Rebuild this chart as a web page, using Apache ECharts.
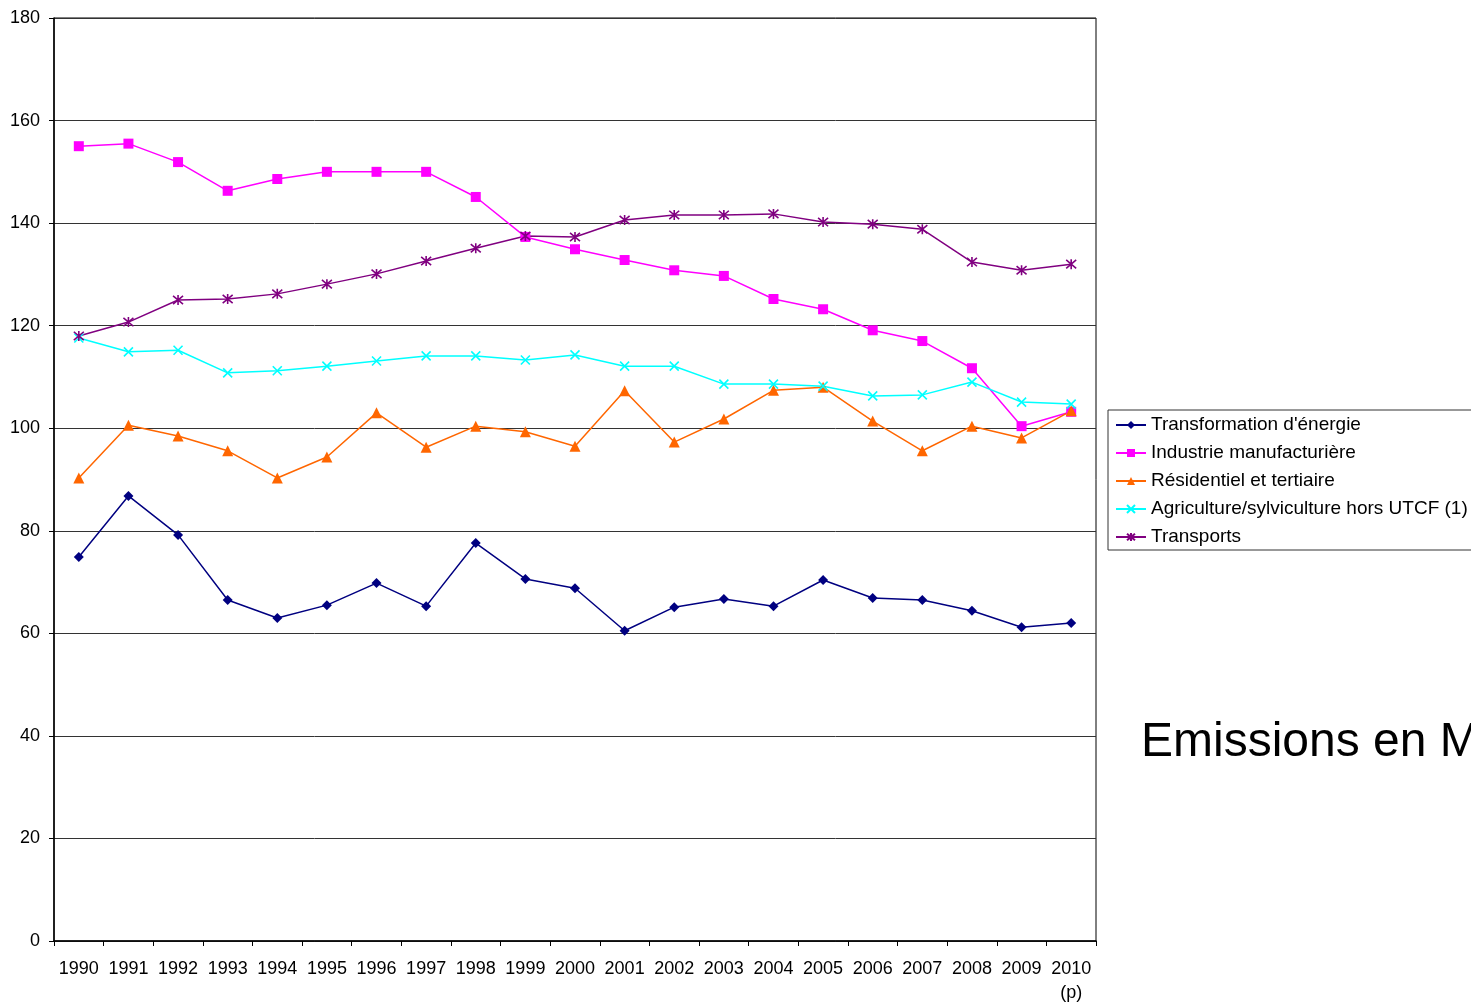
<!DOCTYPE html>
<html>
<head>
<meta charset="utf-8">
<script src="https://cdn.jsdelivr.net/npm/echarts@6/dist/echarts.min.js"></script>
<style>
html,body{margin:0;padding:0;background:#fff;}
#chart{width:1471px;height:1005px;}
</style>
</head>
<body>
<div id="chart"></div>
<script>
const years = ['1990','1991','1992','1993','1994','1995','1996','1997','1998','1999','2000','2001','2002','2003','2004','2005','2006','2007','2008','2009','2010\n(p)'];
const yTicks = [0,20,40,60,80,100,120,140,160,180];
const transformation = [74.9,86.8,79.2,66.5,63.0,65.5,69.8,65.3,77.6,70.6,68.8,60.5,65.1,66.7,65.3,70.4,66.9,66.5,64.4,61.2,62.0];
const industrie = [155.0,155.5,151.9,146.3,148.6,150.0,150.0,150.0,145.1,137.3,134.9,132.8,130.8,129.7,125.2,123.2,119.1,117.0,111.7,100.4,103.2];
const residentiel = [90.3,100.6,98.5,95.6,90.3,94.4,103.0,96.3,100.4,99.3,96.5,107.3,97.3,101.8,107.4,108.0,101.4,95.6,100.4,98.1,103.4];
const agriculture = [117.6,114.9,115.2,110.8,111.2,112.1,113.1,114.1,114.1,113.3,114.3,112.1,112.1,108.6,108.6,108.2,106.3,106.5,109.0,105.1,104.7];
const transports = [118.0,120.7,125.0,125.2,126.2,128.1,130.1,132.6,135.1,137.5,137.3,140.6,141.6,141.6,141.8,140.2,139.8,138.8,132.4,130.8,132.0];
const seriesNames = ["Transformation d'énergie","Industrie manufacturière","Résidentiel et tertiaire","Agriculture/sylviculture hors UTCF (1)","Transports"];

const FONT = 'Liberation Sans, Arial, sans-serif';
const chart = echarts.init(document.getElementById('chart'), null, {renderer:'canvas'});

function mk(name, data, color, symbol, size, strokeSym){
  return {
    name: name, type: 'line', data: data,
    symbol: symbol, symbolSize: size,
    lineStyle: {color: color, width: 1.5},
    itemStyle: strokeSym ? {color: color, borderColor: color, borderWidth: 1.6} : {color: color, borderWidth: 0},
    emphasis: {disabled: true},
    animation: false
  };
}

chart.setOption({
  backgroundColor: '#fff',
  animation: false,
  textStyle: {fontFamily: FONT},
  grid: {left: 54, right: 375, top: 18, bottom: 59, show: true, borderColor: '#000', borderWidth: 1, backgroundColor: 'transparent'},
  legend: {
    orient: 'vertical', left: 1108, top: 410,
    padding: [5, 12, 3, 7],
    borderColor: '#333', borderWidth: 1,
    itemWidth: 30, itemHeight: 10, itemGap: 8,
    textStyle: {fontSize: 19, color: '#000', fontFamily: FONT, lineHeight: 20},
    data: seriesNames
  },
  graphic: [{
    type: 'text', left: 1141, top: 719,
    style: {text: 'Emissions en Mt CO2', fontSize: 48, fontFamily: FONT, fill: '#000'}
  }],
  xAxis: {
    type: 'category', data: years, boundaryGap: true,
    axisLine: {lineStyle: {color: '#000', width: 1.5}},
    axisTick: {show: true, length: 5, lineStyle: {color: '#000'}},
    axisLabel: {color: '#000', fontSize: 18, margin: 16, lineHeight: 24, interval: 0, fontFamily: FONT}
  },
  yAxis: {
    type: 'value', min: 0, max: 180, interval: 20,
    axisLine: {show: true, lineStyle: {color: '#000', width: 1.5}},
    axisTick: {show: true, length: 5, lineStyle: {color: '#000'}},
    axisLabel: {color: '#000', fontSize: 18, margin: 14, fontFamily: FONT,
      formatter: function(v){ return yTicks.indexOf(v) >= 0 ? String(v) : ''; }},
    splitLine: {show: true, lineStyle: {color: '#333', width: 1}}
  },
  series: [
    mk(seriesNames[0], transformation, '#000080', 'diamond', 10, false),
    mk(seriesNames[1], industrie, '#FF00FF', 'rect', 10, false),
    mk(seriesNames[2], residentiel, '#FF6600', 'triangle', 11, false),
    mk(seriesNames[3], agriculture, '#00FFFF', 'path://M0 0L10 10M10 0L0 10', 9, true),
    mk(seriesNames[4], transports, '#800080', 'path://M0 0L10 10M10 0L0 10M5 -1L5 11', 10, true)
  ]
});
</script>
</body>
</html>
